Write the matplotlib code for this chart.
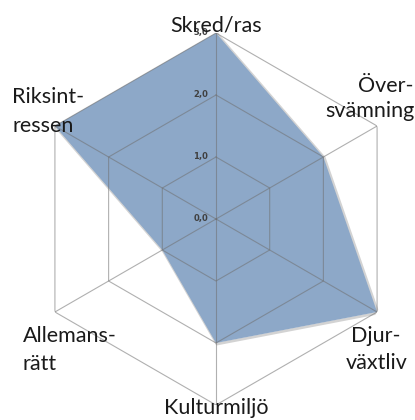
import matplotlib
matplotlib.use("Agg")
import matplotlib.pyplot as plt
import matplotlib.transforms as mtransforms
import numpy as np

# data
categories = ["Skred/ras", "Översvämning", "Djurväxtliv", "Kulturmiljö", "Allemansrätt", "Riksintressen"]
values = [3, 2, 3, 2, 1, 3]
ring_values = [1, 2, 3]
tick_labels = ["0,0", "1,0", "2,0", "3,0"]

# label lines as they are broken in the picture
label_lines = [
    ["Skred/ras"],
    ["Över-", "svämning"],
    ["Djur-", "växtliv"],
    ["Kulturmiljö"],
    ["Allemans-", "rätt"],
    ["Riksint-", "ressen"],
]

W, H = 415, 420
fig = plt.figure(figsize=(W / 100, H / 100), dpi=100)
cx, cy, R = 216, 219, 186
ax = fig.add_axes([(cx - R) / W, (H - cy - R) / H, 2 * R / W, 2 * R / H], projection="polar")
ax.set_theta_offset(np.pi / 2)
ax.set_theta_direction(-1)
ax.set_ylim(0, 3)
ax.set_axis_off()

n = len(categories)
theta = np.linspace(0, 2 * np.pi, n, endpoint=False)
th_closed = np.append(theta, theta[0])

# shaded area with a light shadow edge
vals_closed = np.append(values, values[0])
shadow = mtransforms.offset_copy(ax.transData, fig=fig, x=1, y=-1, units="dots")
ax.plot(th_closed, vals_closed, color="#d3d3d3", lw=2.0, transform=shadow, zorder=1)
ax.fill(th_closed, vals_closed, color="#8da8c8", lw=0, zorder=2)

# hexagon grid
grid_kw = dict(color="#6f6f6f", alpha=0.55, lw=0.8, zorder=3)
for r in ring_values:
    ax.plot(th_closed, [r] * (n + 1), **grid_kw)
for t in theta:
    ax.plot([t, t], [0, 3], **grid_kw)

# radial tick labels
for i, lab in enumerate(tick_labels):
    ax.annotate(lab, xy=(0, i), xytext=(-8, 0), textcoords="offset pixels",
                ha="right", va="center", fontsize=6, fontweight="bold",
                color="#404040", zorder=5)

# category labels (x, baseline y in pixels, alignment)
font = "Lato"
label_pos = [
    [(216, 31, "center")],
    [(413, 92, "right"), (415, 117, "right")],
    [(400, 342, "right"), (408, 369, "right")],
    [(216, 414, "center")],
    [(23, 342, "left"), (23, 370, "left")],
    [(12, 103, "left"), (12, 132, "left")],
]
for lines, pos in zip(label_lines, label_pos):
    for txt, (x, y, ha) in zip(lines, pos):
        fig.text(x / W, 1 - y / H, txt, ha=ha, va="baseline", fontsize=15.5,
                 family=font, color="#1a1a1a")

fig.savefig("out.png", dpi=100)
